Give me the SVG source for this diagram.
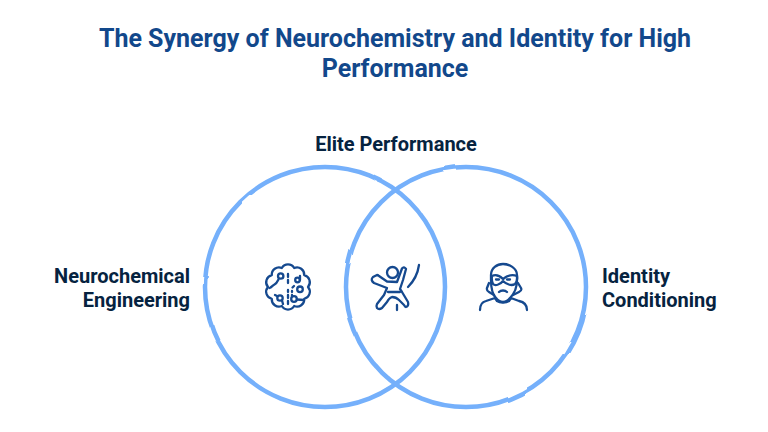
<svg xmlns="http://www.w3.org/2000/svg" width="768" height="432" viewBox="0 0 768 432">
<style>
text{font-family:Roboto,"Liberation Sans",sans-serif;font-weight:700}
.t{font-size:25px;fill:#12488b;text-anchor:middle}
.l{font-size:20px;fill:#062340}
.c{fill:none;stroke:#74b0fb;stroke-width:4.5}
.i{fill:none;stroke:#15498f;stroke-width:2.3;stroke-linecap:round;stroke-linejoin:round}
</style>
<defs><filter id="rough" x="-5%" y="-5%" width="110%" height="110%"><feTurbulence type="fractalNoise" baseFrequency="0.03" numOctaves="1" seed="4"/><feDisplacementMap in="SourceGraphic" scale="3"/></filter></defs>
<rect width="768" height="432" fill="#fff"/>
<g id="title"><text class="t" x="395" y="47">The Synergy of Neurochemistry and Identity for High</text><text class="t" x="395" y="77">Performance</text></g>
<g id="connectors"></g>
<g id="left-circle"><circle class="c" cx="325" cy="287" r="120" filter="url(#rough)"/></g>
<g id="right-circle"><circle class="c" cx="466" cy="287" r="120" filter="url(#rough)"/></g>
<g id="label-top"><text class="l" x="396" y="151" text-anchor="middle">Elite Performance</text></g>
<g id="label-left"><text class="l" x="190" y="283" text-anchor="end">Neurochemical</text><text class="l" x="190" y="307" text-anchor="end">Engineering</text></g>
<g id="label-right"><text class="l" x="602" y="283">Identity</text><text class="l" x="602" y="307">Conditioning</text></g>
<g id="brain-icon" class="i">
<path d="M294.200 268A7.200 7.200 0 0 1 304.200 275.200A7.200 7.200 0 0 1 308 287A7.200 7.200 0 0 1 304.200 298.800A7.200 7.200 0 0 1 294.200 306A7.200 7.200 0 0 1 281.800 306A7.200 7.200 0 0 1 271.800 298.800A7.200 7.200 0 0 1 268 287A7.200 7.200 0 0 1 271.800 275.200A7.200 7.200 0 0 1 281.800 268A7.200 7.200 0 0 1 294.200 268Z"/>
<circle cx="280.700" cy="276" r="2.700"/><path d="M278.500 279.500c-1 2-2 4-4 5-2 1-3 3-5 3.500"/>
<circle cx="297.500" cy="280" r="2.300"/><path d="M300 276v4"/>
<circle cx="300" cy="289.300" r="2.800"/><path d="M294 286l-1.500 1.500"/>
<circle cx="280" cy="298" r="2.700"/><path d="M282 300.500l1 3.500M277 296l-2-1"/>
<circle cx="294" cy="299" r="2.800"/><path d="M297 299.500l7 .5"/>
<path d="M288 274v3M288 280v3M288 290v2M288 295v3M288 301v3M292 291v1M292 295v1"/>
</g>
<g id="runner-icon" class="i">
<circle cx="392.500" cy="272.500" r="5.500"/>
<path d="M419 265C418 272 414 281 408 287"/>
<path d="M373 277L377 275Q378 275 379 276L387 281.500L397 282L402 268.500Q404 266 406 269L403 280L400 289L402 292L408 302Q409 306 406 307Q405 307 404 305L399 300Q396 297 392 297Q389 298 387 302L382 308Q379 310 377 308Q376 306 377 304L384 295L387 288L374 283Q370 280 373 277Z"/>
<path d="M388 292H400M397 305V310"/>
</g>
<g id="mask-icon" class="i">
<path d="M491 280v-5c0-7 6-11 12-11s14 4 14 11v5c0 8-3 14-7 18-2 3-5 4-7 4s-5-1-7-4c-4-4-5-10-5-18z"/>
<path d="M492 276c4-2 7-1 11 3 5-4 9-5 14-3 .5 3 0 6-2 8-3 2-8 1-12-3-3 4-8 5-10 3-1-2-1.500-5-1-8z"/>
<path d="M496 279.500h3M507 279.500h3"/>
<path d="M499 292c2-2 6-2 8 0M489 283l-2 5c-.5 2 0 3 2 4l5 3M518 283l3 5c1 2 0 3-2 4l-6 3"/>
<path d="M480 310c0-5 2-8 6-9l9-3 2 3c3 2 9 2 12 0l2-3 8 3c5 1 8 4 8 9"/>
</g>
</svg>
